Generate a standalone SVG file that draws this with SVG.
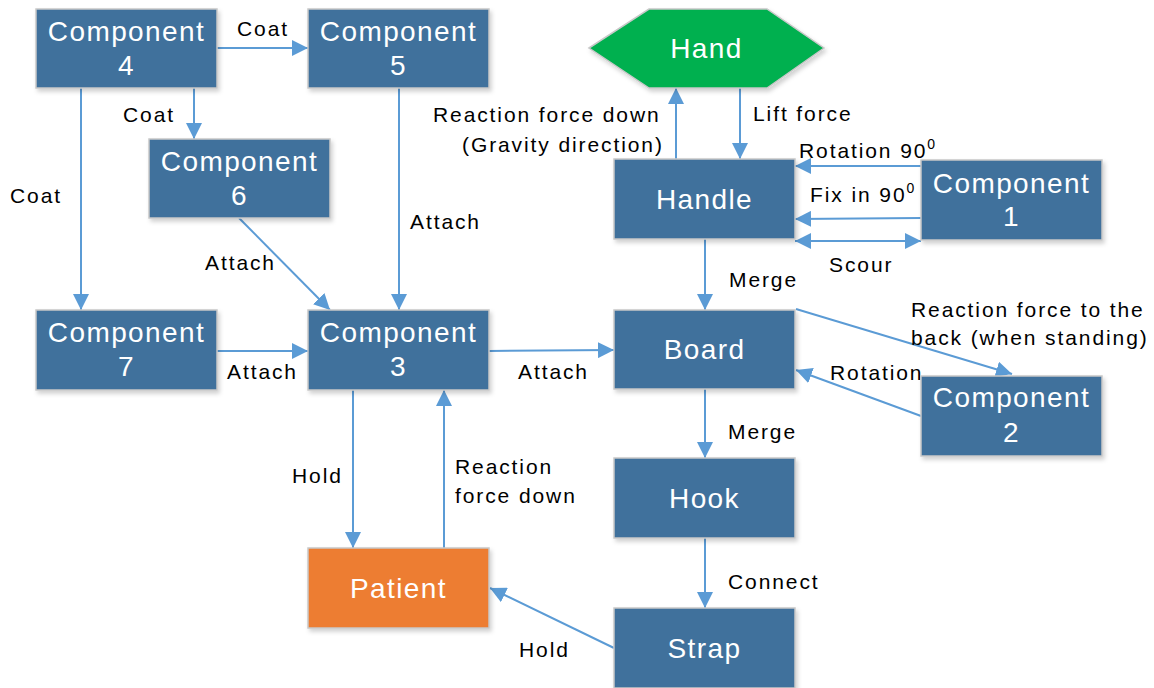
<svg xmlns="http://www.w3.org/2000/svg" width="1154" height="688" viewBox="0 0 1154 688">
<style>
.box{fill:#41719C;stroke:#C8C8C8;stroke-width:1.5;filter:url(#sh)}
.nt{font-family:"Liberation Sans",Arial,sans-serif;font-size:28px;letter-spacing:1.4px;fill:#FFFFFF;text-anchor:middle}
.lb{font-family:"Liberation Sans",Arial,sans-serif;font-size:21px;letter-spacing:1.9px;fill:#000000}
.e{stroke:#5B9BD5;stroke-width:2;fill:none;marker-end:url(#ah)}
</style>
<defs>
<filter id="sh" x="-10%" y="-10%" width="125%" height="130%">
<feDropShadow dx="2" dy="3" stdDeviation="2" flood-color="#000" flood-opacity="0.18"/>
</filter>
<marker id="ah" markerUnits="userSpaceOnUse" markerWidth="16" markerHeight="16" refX="16" refY="8" orient="auto-start-reverse">
<path d="M0,0 L16,8 L0,16 z" fill="#5B9BD5"/>
</marker>
</defs>
<rect width="1154" height="688" fill="#FFFFFF"/>

<g id="connectors">
<path class="e" d="M217,48 L308,48"/>
<path class="e" d="M194,88 L194,139"/>
<path class="e" d="M81,88 L81,310"/>
<path class="e" d="M239,218 L330,310"/>
<path class="e" d="M399,88 L399,310"/>
<path class="e" d="M217,351 L308,351"/>
<path class="e" d="M489,351 L614,350"/>
<path class="e" d="M353,390 L353,548"/>
<path class="e" d="M444,548 L444,390"/>
<path class="e" d="M614,648 L490,588"/>
<path class="e" d="M705,538 L705,608"/>
<path class="e" d="M705,389 L705,458"/>
<path class="e" d="M705,239 L705,310"/>
<path class="e" d="M796,309 L1012,374"/>
<path class="e" d="M921,416 L796,370"/>
<path class="e" d="M676,159 L676,88"/>
<path class="e" d="M740,88 L740,159"/>
<path class="e" d="M921,166 L795,166"/>
<path class="e" d="M921,218 L795,219"/>
<path class="e" d="M795,241 L921,241" marker-start="url(#ah)"/>

<text class="lb" x="237" y="36">Coat</text>
<text class="lb" x="123" y="122">Coat</text>
<text class="lb" x="10" y="203">Coat</text>
<text class="lb" x="205" y="270">Attach</text>
<text class="lb" x="410" y="229">Attach</text>
<text class="lb" x="227" y="379">Attach</text>
<text class="lb" x="518" y="379">Attach</text>
<text class="lb" x="292" y="483">Hold</text>
<text class="lb" x="455" y="474">Reaction</text>
<text class="lb" x="455" y="503">force down</text>
<text class="lb" x="519" y="657">Hold</text>
<text class="lb" x="728" y="589">Connect</text>
<text class="lb" x="728" y="439">Merge</text>
<text class="lb" x="729" y="287">Merge</text>
<text class="lb" x="911" y="317">Reaction force to the</text>
<text class="lb" x="911" y="345">back (when standing)</text>
<text class="lb" x="830" y="380">Rotation</text>
<text class="lb" x="433" y="122">Reaction force down</text>
<text class="lb" x="462" y="152">(Gravity direction)</text>
<text class="lb" x="753" y="121">Lift force</text>
<text class="lb" x="799" y="158">Rotation 90<tspan font-size="14" dy="-9">0</tspan></text>
<text class="lb" x="810" y="202">Fix in 90<tspan font-size="14" dy="-9">0</tspan></text>
<text class="lb" x="829" y="272">Scour</text>
</g>

<g id="component4"><rect class="box" x="36" y="9" width="181" height="79"/><text class="nt" x="126.5" y="41">Component</text><text class="nt" x="126.5" y="75">4</text></g>
<g id="component5"><rect class="box" x="308" y="9" width="181" height="79"/><text class="nt" x="398.5" y="41">Component</text><text class="nt" x="398.5" y="75">5</text></g>
<g id="component6"><rect class="box" x="149" y="139" width="181" height="79"/><text class="nt" x="239.5" y="171">Component</text><text class="nt" x="239.5" y="205">6</text></g>
<g id="component7"><rect class="box" x="36" y="310" width="181" height="80"/><text class="nt" x="126.5" y="342">Component</text><text class="nt" x="126.5" y="376">7</text></g>
<g id="component3"><rect class="box" x="308" y="310" width="181" height="80"/><text class="nt" x="398.5" y="342">Component</text><text class="nt" x="398.5" y="376">3</text></g>
<g id="hand"><polygon points="589,48 649,9 767,9 824,48 767,88 649,88" fill="#00B050" stroke="#C8C8C8" stroke-width="1.5" filter="url(#sh)"/><text class="nt" x="706.5" y="58">Hand</text></g>
<g id="handle"><rect class="box" x="614" y="159" width="181" height="80"/><text class="nt" x="704.5" y="209">Handle</text></g>
<g id="component1"><rect class="box" x="921" y="160" width="181" height="80"/><text class="nt" x="1011.5" y="193">Component</text><text class="nt" x="1011.5" y="226">1</text></g>
<g id="board"><rect class="box" x="614" y="310" width="181" height="79"/><text class="nt" x="704.5" y="359">Board</text></g>
<g id="component2"><rect class="box" x="921" y="376" width="181" height="80"/><text class="nt" x="1011.5" y="407">Component</text><text class="nt" x="1011.5" y="442">2</text></g>
<g id="hook"><rect class="box" x="614" y="458" width="181" height="80"/><text class="nt" x="704.5" y="508">Hook</text></g>
<g id="strap"><rect class="box" x="614" y="608" width="181" height="80"/><text class="nt" x="704.5" y="658">Strap</text></g>
<g id="patient"><rect x="308" y="548" width="181" height="80" fill="#ED7D31" stroke="#C8C8C8" stroke-width="1.5" filter="url(#sh)"/><text class="nt" x="398.5" y="598">Patient</text></g>
</svg>
